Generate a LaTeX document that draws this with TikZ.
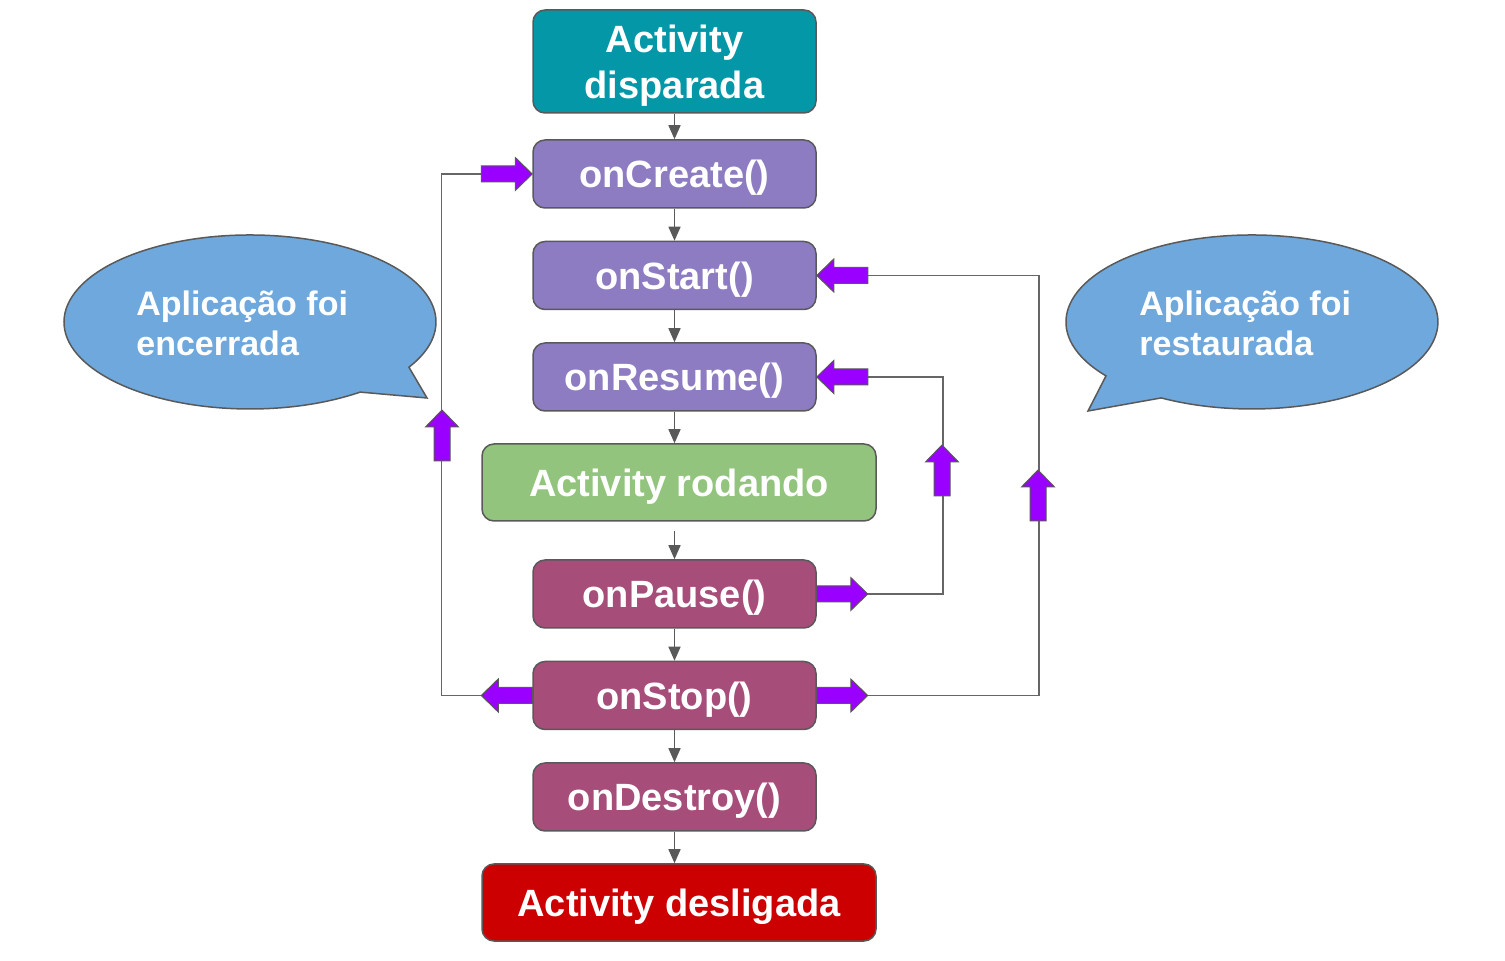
\documentclass[tikz,border=0pt]{standalone}
\usepackage{fontspec}
\setmainfont{Liberation Sans}
\usetikzlibrary{arrows.meta}
\definecolor{cTeal}{HTML}{0397A7}
\definecolor{cPurple}{HTML}{8E7CC3}
\definecolor{cGreen}{HTML}{93C47D}
\definecolor{cMagenta}{HTML}{A64D79}
\definecolor{cRed}{HTML}{CC0000}
\definecolor{cBubble}{HTML}{6FA8DC}
\definecolor{cBorder}{HTML}{595959}
\definecolor{cLine}{HTML}{666666}
\definecolor{cArrow}{HTML}{9900FF}
\begin{document}
\begin{tikzpicture}[x=0.5pt,y=-0.5pt,
  box/.style={draw=cBorder, line width=0.75pt, rounded corners=6pt, text=white,
    font=\bfseries\fontsize{19}{23}\selectfont, minimum width=141.5pt,
    minimum height=34pt, inner sep=0pt, align=center, text depth=0pt},
  widebox/.style={box, minimum width=197pt, minimum height=38.5pt},
  flow/.style={draw=cBorder, line width=0.7pt, -{Triangle[width=6pt,length=7pt]}},
  conn/.style={draw=cLine, line width=0.75pt},
  bubble/.style={draw=cBorder, line width=0.75pt, fill=cBubble},
  bubbletext/.style={text=white, font=\bfseries\fontsize{17}{20}\selectfont,
    align=left, inner sep=0pt, anchor=west},
  arrowfill/.style={draw=cBorder, line width=0.5pt, fill=cArrow},
  outarr/.pic={\path[arrowfill] (0,-8) -- (34,-8) -- (34,-16.5) -- (51,0) -- (34,16.5) -- (34,8) -- (0,8) -- cycle;},
  inarr/.pic={\path[arrowfill] (-51,-8) -- (-17,-8) -- (-17,-16.5) -- (0,0) -- (-17,16.5) -- (-17,8) -- (-51,8) -- cycle;}
]
\useasboundingbox (0,0) rectangle (1505,961);

% speech bubbles
\path[bubble] (360.1,392.1) arc[start angle=53.7, end angle=391.3, x radius=186, y radius=87] -- (427,398) -- cycle;
\node[bubbletext] (leftbubble) at (136,323) {Aplicação foi\\encerrada};
\path[bubble] (1106,375.9) arc[start angle=141.7, end angle=479.2, x radius=186, y radius=87] -- (1088,411) -- cycle;
\node[bubbletext] (rightbubble) at (1139,323) {Aplicação foi\\restaurada};

% main boxes
\node[box, fill=cTeal, minimum height=51.5pt] (disparada) at (674.5,61.5) {Activity\\disparada};
\node[box, fill=cPurple] (onCreate) at (674.5,174) {onCreate()};
\node[box, fill=cPurple] (onStart) at (674.5,275.5) {onStart()};
\node[box, fill=cPurple] (onResume) at (674.5,377) {onResume()};
\node[widebox, fill=cGreen] (rodando) at (679,482.5) {Activity rodando};
\node[box, fill=cMagenta] (onPause) at (674.5,594) {onPause()};
\node[box, fill=cMagenta] (onStop) at (674.5,695.5) {onStop()};
\node[box, fill=cMagenta] (onDestroy) at (674.5,797) {onDestroy()};
\node[widebox, fill=cRed] (desligada) at (679,902.5) {Activity desligada};

% flow arrows
\draw[flow] (disparada.south -| onCreate.north) -- (onCreate.north);
\draw[flow] (onCreate.south) -- (onStart.north);
\draw[flow] (onStart.south) -- (onResume.north);
\draw[flow] (onResume.south) -- (rodando.north -| onResume.south);
\draw[flow, shorten <=4.5pt] (rodando.south -| onPause.north) -- (onPause.north);
\draw[flow] (onPause.south) -- (onStop.north);
\draw[flow] (onStop.south) -- (onDestroy.north);
\draw[flow] (onDestroy.south) -- (desligada.north -| onDestroy.south);

% loop connectors
\draw[conn] (onStop.west) -- ++(-91,0) |- (onCreate.west);
\draw[conn] (onPause.east) -- ++(126,0) |- (onResume.east);
\draw[conn] (onStop.east) -- ++(222,0) |- (onStart.east);

% block arrows
\pic[rotate=180] at (onStop.west) {outarr};
\pic at (onCreate.west) {inarr};
\pic at (onPause.east) {outarr};
\pic at (onStop.east) {outarr};
\pic[rotate=180] at (onResume.east) {inarr};
\pic[rotate=180] at (onStart.east) {inarr};
\pic[rotate=90] at (442,461) {outarr};
\pic[rotate=90] at (942,496) {outarr};
\pic[rotate=90] at (1038,521) {outarr};
\end{tikzpicture}
\end{document}
